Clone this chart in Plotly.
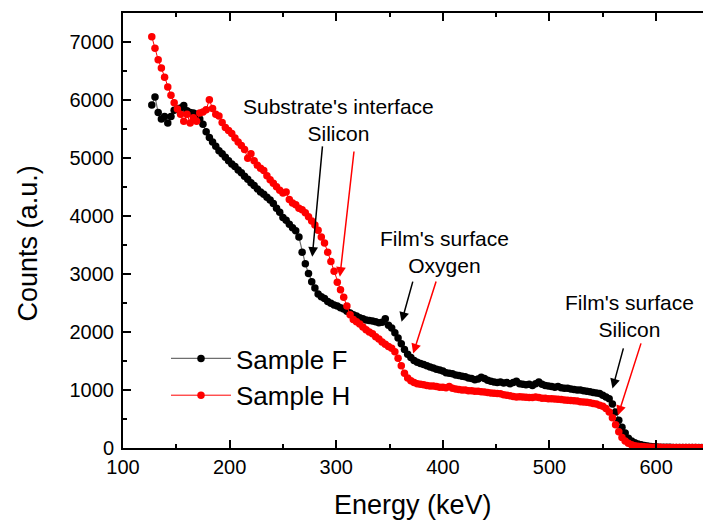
import plotly.graph_objects as go

energy_kev = [127,130,133,136,139,142,145,148,151,154,157,160,163,166,169,172,175,178,181,184,187,190,193,196,199,
              202,205,208,211,214,217,220,223,226,229,232,235,238,241,244,247,250,253,256,259,262,265,268,271,274,277,
              280,283,286,289,292,295,298,301,304,307,310,313,316,319,322,325,328,331,334,337,340,343,346,349,352,355,
              358,361,364,367,370,373,376,379,382,385,388,391,394,397,400,403,406,409,412,415,418,421,424,427,430,433,
              436,439,442,445,448,451,454,457,460,463,466,469,472,475,478,481,484,487,490,493,496,499,502,505,508,511,
              514,517,520,523,526,529,532,535,538,541,544,547,550,553,556,559,562,565,568,571,574,577,580,583,586,589,
              592,595,598,601,604,607,610,613,616,619,622,625,628,631,634,637,640,643,646]

sample_f = [5920,6060,5790,5680,5720,5610,5720,5830,5850,5870,5910,5820,5790,5780,5760,5680,5590,5460,5360,5280,5210,5130,5080,5020,4960,
            4900,4860,4800,4750,4690,4640,4580,4530,4470,4420,4380,4330,4280,4220,4140,4070,3980,3930,3860,3800,3750,3640,3380,3180,3010,2870,
            2760,2660,2610,2580,2530,2500,2470,2450,2420,2400,2360,2330,2300,2280,2250,2230,2210,2200,2190,2180,2160,2170,2230,2120,2070,1990,
            1900,1800,1700,1620,1560,1510,1480,1460,1440,1420,1400,1380,1360,1345,1330,1300,1290,1280,1260,1250,1240,1230,1210,1200,1180,1190,
            1220,1200,1170,1150,1140,1130,1140,1120,1130,1110,1130,1150,1110,1100,1090,1100,1080,1110,1140,1100,1080,1070,1060,1050,1060,1040,
            1030,1030,1020,1010,1000,1000,990,980,970,960,950,940,910,880,850,760,620,480,360,260,170,120,90,70,55,45,
            35,28,22,18,15,13,12,11,10,10,9,9,8,8,8,7,7,7,7]

sample_h = [7100,6900,6700,6560,6400,6230,6090,5960,5850,5760,5640,5760,5610,5700,5640,5780,5800,5840,6010,5860,5760,5730,5620,5530,5480,
            5430,5350,5280,5220,5150,5000,5080,4960,4880,4830,4790,4700,4630,4570,4510,4450,4400,4420,4290,4230,4200,4140,4110,4060,3990,3920,
            3850,3760,3640,3540,3380,3220,3050,2860,2730,2600,2450,2300,2220,2180,2140,2090,2040,2000,1970,1920,1880,1830,1790,1750,1720,1660,
            1550,1420,1290,1210,1160,1130,1110,1100,1090,1080,1070,1070,1060,1050,1050,1040,1060,1030,1020,1010,1000,1000,990,990,980,980,
            970,965,960,950,945,940,935,920,910,900,890,880,885,880,875,870,870,880,870,860,860,850,850,845,840,835,
            830,825,820,815,810,800,795,790,780,770,760,740,720,680,620,520,400,280,180,120,80,55,40,32,26,22,
            18,15,13,12,11,10,10,9,9,8,8,8,7,7,7,7,6,6,6]

x_ticks = [100, 200, 300, 400, 500, 600]
y_ticks = [0, 1000, 2000, 3000, 4000, 5000, 6000, 7000]

FONT = "Arial, Liberation Sans, sans-serif"

fig = go.Figure()
fig.add_trace(go.Scatter(x=energy_kev, y=sample_f, mode="lines+markers", name="Sample F",
                         line=dict(color="#6e6e6e", width=1.2),
                         marker=dict(color="black", size=7.5)))
fig.add_trace(go.Scatter(x=energy_kev, y=sample_h, mode="lines+markers", name="Sample H",
                         line=dict(color="#ff0000", width=1),
                         marker=dict(color="#ff0000", size=7.5)))

axis_common = dict(showline=True, linecolor="black", linewidth=2, ticks="inside", ticklen=8, tickwidth=2,
                   tickcolor="black", showgrid=False, zeroline=False,
                   tickfont=dict(family=FONT, size=20, color="black"))

fig.update_xaxes(range=[100, 644], tickvals=x_ticks, mirror="ticks",
                 minor=dict(ticks="inside", ticklen=4, tickwidth=1.5, tickcolor="black", dtick=50, tick0=100),
                 ticklabelstandoff=0, **axis_common)
fig.update_yaxes(range=[0, 7508], tickvals=y_ticks,
                 minor=dict(ticks="inside", ticklen=4, tickwidth=1.5, tickcolor="black", dtick=500, tick0=0),
                 ticklabelstandoff=3, **axis_common)

annotations = []
# axis titles
annotations.append(dict(text="Energy (keV)", xref="paper", yref="paper", x=0.5, y=-0.131,
                        showarrow=False, font=dict(family=FONT, size=27, color="black"),
                        xanchor="center", yanchor="middle"))
annotations.append(dict(text="Counts (a.u.)", xref="paper", yref="paper", x=-0.164, y=0.47,
                        showarrow=False, textangle=-90, font=dict(family=FONT, size=27, color="black"),
                        xanchor="center", yanchor="middle"))

label_font = dict(family=FONT, size=21, color="black")
labels = [
    ("Substrate's interface<br>Silicon", 302.5, 5663),
    ("Film's surface<br>Oxygen", 401.9, 3390),
    ("Film's surface<br>Silicon", 575.3, 2284),
]
for t, lx, ly in labels:
    annotations.append(dict(text=t, x=lx, y=ly, xref="x", yref="y", showarrow=False,
                            font=label_font, xanchor="center", yanchor="middle"))

arrows = [
    (277.5, 3300, 287.2, 5231, "black"),
    (303.4, 2955, 316.8, 5144, "#ff0000"),
    (361.3, 2177, 372.2, 2898, "black"),
    (372.2, 1631, 394.1, 2898, "#ff0000"),
    (559.1, 1026, 569.7, 1745, "black"),
    (564.3, 565, 586.3, 1832, "#ff0000"),
]
for hx, hy, tx, ty, c in arrows:
    annotations.append(dict(x=hx, y=hy, ax=tx, ay=ty, xref="x", yref="y", axref="x", ayref="y",
                            text="", showarrow=True, arrowhead=2, arrowsize=1.3, arrowwidth=1.5,
                            arrowcolor=c))

fig.update_layout(
    width=703, height=520,
    margin=dict(l=123, r=0, t=13, b=72),
    paper_bgcolor="white", plot_bgcolor="white",
    showlegend=True,
    legend=dict(x=(166 - 123) / 580, y=(448 - 335) / 435, xanchor="left", yanchor="top",
                bgcolor="rgba(0,0,0,0)", borderwidth=0, itemwidth=60,
                font=dict(family=FONT, size=26, color="black"), tracegroupgap=0),
    annotations=annotations,
)

fig.write_html("out.html", config={"displayModeBar": False},
               post_script="document.body.style.margin='0px';document.body.style.overflow='hidden';")
